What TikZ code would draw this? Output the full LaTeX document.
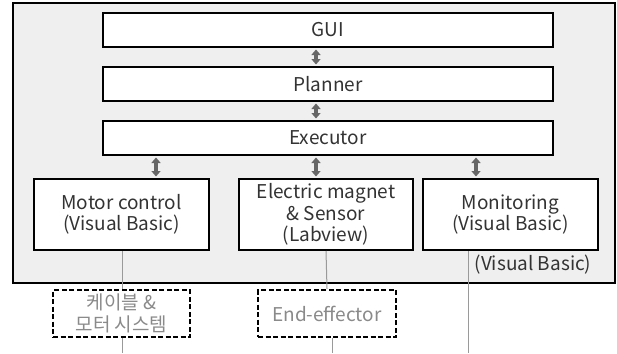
\documentclass[tikz,border=0pt]{standalone}
\usepackage{fontspec}
\setmainfont{Noto Sans CJK KR}
\usetikzlibrary{arrows.meta,calc}
\definecolor{bgfill}{HTML}{EEEFEE}
\definecolor{txt}{HTML}{333333}
\definecolor{lighttxt}{HTML}{8A8A8A}
\definecolor{arrowgray}{HTML}{666666}
\definecolor{linegray}{HTML}{9A9A9A}
\tikzset{
  sysbox/.style={draw=black, line width=2.5pt, fill=bgfill, inner sep=0pt},
  wbox/.style={draw=black, line width=2pt, fill=white, inner sep=0pt, text=txt, align=center,
    font=\fontsize{19}{21.5}\selectfont},
  dbox/.style={draw=black, line width=2.2pt, dash pattern=on 5pt off 2.5pt, fill=white, inner sep=0pt,
    text=lighttxt, align=center, font=\fontsize{19}{21.5}\selectfont},
  darr/.style={draw=arrowgray, line width=3.6pt,
    {Triangle[width=9pt,length=5.5pt]}-{Triangle[width=9pt,length=5.5pt]},
    shorten <=1.5pt, shorten >=1.5pt},
  thin/.style={draw=linegray, line width=1pt},
}
\begin{document}
\begin{tikzpicture}[x=1pt,y=-1pt]
\useasboundingbox (0,0) rectangle (617,353);
\node[sysbox, minimum width=602, minimum height=280] (sys) at (314,143) {};
\node[wbox, minimum width=450, minimum height=34] (gui) at (328,30) {GUI};
\node[wbox, minimum width=450, minimum height=34] (planner) at (328,84) {Planner};
\node[wbox, minimum width=450, minimum height=34] (executor) at (328,138) {Executor};
\node[wbox, minimum width=175, minimum height=71] (motor) at (121.5,214.5) {Motor control\\(Visual Basic)};
\node[wbox, minimum width=174, minimum height=71] (magnet) at (326,214.5) {Electric magnet\\\& Sensor\\(Labview)};
\node[wbox, minimum width=175, minimum height=71] (monitor) at (510.5,214.5) {Monitoring\\(Visual Basic)};
\node[text=txt, font=\fontsize{19}{21.5}\selectfont, inner sep=0pt] (vb) at (533,265) {(Visual Basic)};
\node[dbox, minimum width=137, minimum height=47] (cable) at (121.5,313.5) {케이블 \&\\모터 시스템};
\node[dbox, minimum width=138, minimum height=47] (endeff) at (327,313.5) {End-effector};
% arrow axes
\coordinate (a1) at (156,0);
\coordinate (a2) at (316,0);
\coordinate (a3) at (476,0);
\draw[darr] (gui.south -| a2) -- (planner.north -| a2);
\draw[darr] (planner.south -| a2) -- (executor.north -| a2);
\draw[darr] (executor.south -| a1) -- (motor.north -| a1);
\draw[darr] (executor.south -| a2) -- (magnet.north -| a2);
\draw[darr] (executor.south -| a3) -- (monitor.north -| a3);
% thin lines
\coordinate (l1) at (122,353);
\coordinate (l2) at (332,353);
\coordinate (l3) at (468,353);
\coordinate (m1) at (122,0);
\coordinate (m3) at (468,0);
\draw[thin] (motor.south -| m1) -- (cable.north -| m1);
\draw[thin] (cable.south -| m1) -- (l1);
\draw[thin] (magnet.south) -- (endeff.north);
\draw[thin] (endeff.south -| l2) -- (l2);
\draw[thin] (monitor.south -| m3) -- (l3);
\end{tikzpicture}
\end{document}
